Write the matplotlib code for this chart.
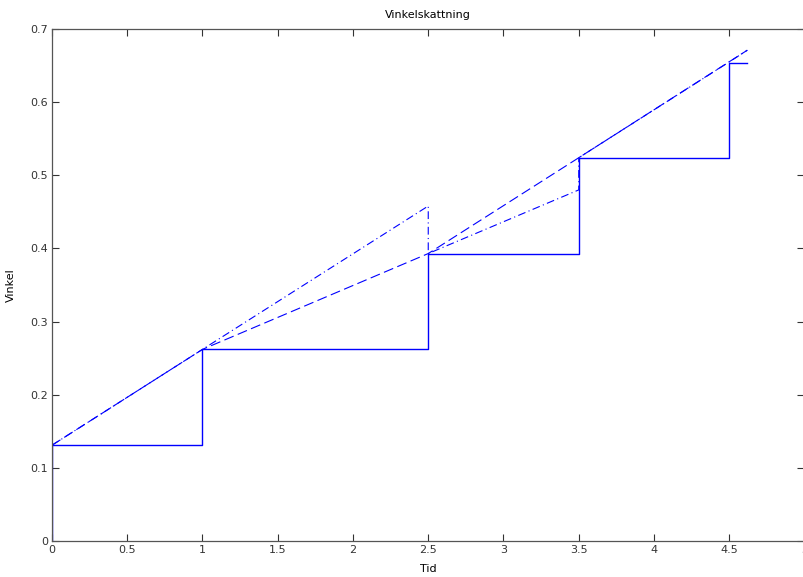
import numpy as np
import matplotlib as mpl
mpl.use('Agg')
import matplotlib.pyplot as plt

# trappstegsvinkel (sann/uppmätt)
t_steg = [0, 0, 1, 1, 2.5, 2.5, 3.5, 3.5, 4.5, 4.5, 4.62]
v_steg = [0, 0.131, 0.131, 0.262, 0.262, 0.393, 0.393, 0.524, 0.524, 0.654, 0.654]

# interpolerad skattning (streckad)
t_interp = [0, 1, 2.5, 3.5, 4.62]
v_interp = [0.131, 0.262, 0.393, 0.524, 0.671]

# extrapolerad skattning (streck-punkt)
t_extra = [0, 1, 2.5, 2.5, 3.5, 3.5, 4.5, 4.62]
v_extra = [0.131, 0.262, 0.458, 0.393, 0.480, 0.524, 0.655, 0.671]

xticks = [0, 0.5, 1, 1.5, 2, 2.5, 3, 3.5, 4, 4.5, 5]
yticks = [0, 0.1, 0.2, 0.3, 0.4, 0.5, 0.6, 0.7]

fig = plt.figure(figsize=(8.04, 5.77), dpi=100)
ax = fig.add_axes([52/804, 36/577, 752.5/804, 512/577])

ax.plot(t_steg, v_steg, color='#0000ff', lw=1.0)
ax.plot(t_interp, v_interp, color='#0000ff', lw=0.8, dashes=(9, 4))
ax.plot(t_extra, v_extra, color='#0000ff', lw=0.8, dashes=(7, 3, 1, 3))

ax.set_xlim(0, 5)
ax.set_ylim(0, 0.7)
ax.set_xticks(xticks)
ax.set_xticklabels(['0', '0.5', '1', '1.5', '2', '2.5', '3', '3.5', '4', '4.5', '5'])
ax.set_yticks(yticks)
ax.set_yticklabels(['0', '0.1', '0.2', '0.3', '0.4', '0.5', '0.6', '0.7'])
ax.tick_params(direction='in', length=5, width=0.8, top=True, right=True,
               labelsize=8, colors='#333333', pad=3)
for s in ax.spines.values():
    s.set_color('#555555')
    s.set_linewidth(0.9)

ax.set_title('Vinkelskattning', fontsize=8, pad=8)
ax.set_xlabel('Tid', fontsize=8, labelpad=6)
ax.set_ylabel('Vinkel', fontsize=8, labelpad=10)

plt.savefig('out.png', dpi=100)
plt.close()
